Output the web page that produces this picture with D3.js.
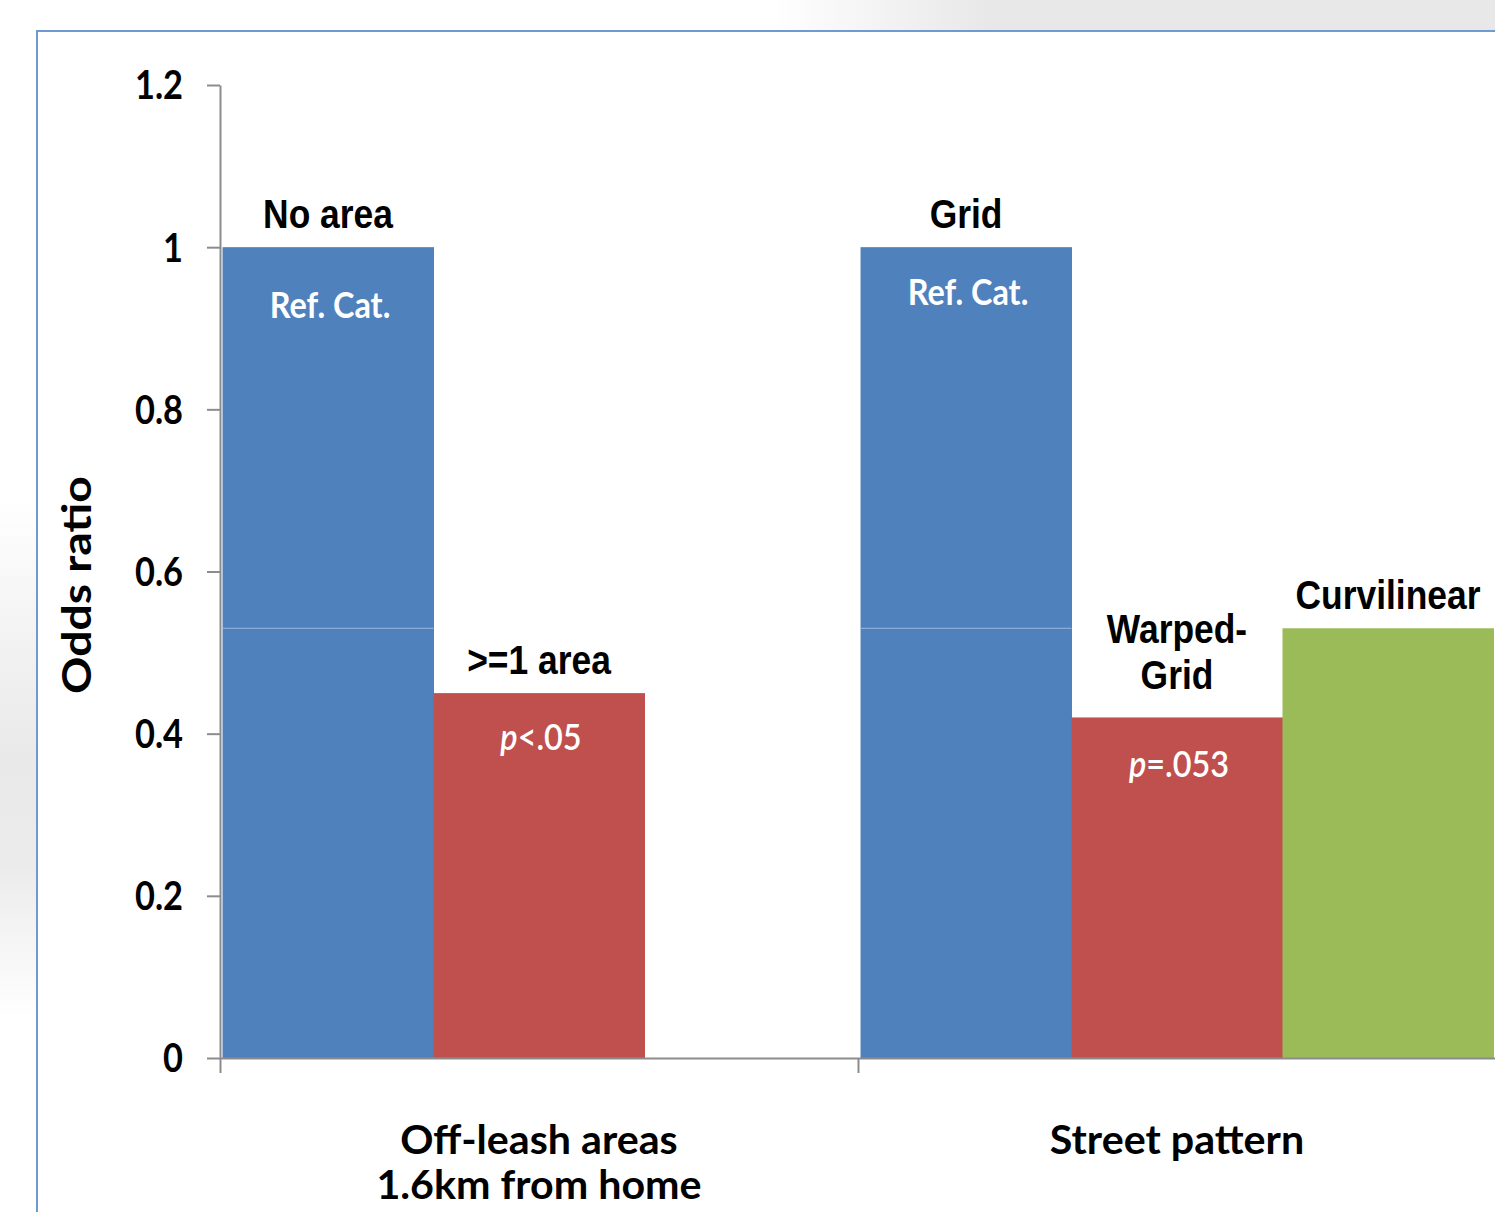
<!DOCTYPE html>
<html><head><meta charset="utf-8">
<script src="https://cdn.jsdelivr.net/npm/d3@7"></script>
<style>body{margin:0;background:#fff;overflow:hidden}</style>
</head><body><svg id="c" width="1495" height="1212"></svg>
<script>
const groups = ["Off-leash areas\n1.6km from home", "Street pattern"];
const blueValues = [1, 1];
const redValues = [0.45, 0.42];
const greenValues = [null, 0.53];
const labelsAbove = [["No area", ">=1 area", null], ["Grid", "Warped-\nGrid", "Curvilinear"]];
const labelsInside = [["Ref. Cat.", "p<.05", null], ["Ref. Cat.", "p=.053", null]];
const yTicks = [0, 0.2, 0.4, 0.6, 0.8, 1, 1.2];
const yTickLabels = ["0", "0.2", "0.4", "0.6", "0.8", "1", "1.2"];
const yTitle = "Odds ratio";
const colors = ["#4F81BD", "#C0504D", "#9BBB59"];

const svg = d3.select("#c");
const defs = svg.append("defs");
const gTop = defs.append("linearGradient").attr("id","gTop").attr("x1",0).attr("x2",1).attr("y1",0).attr("y2",0);
gTop.append("stop").attr("offset",0).attr("stop-color","#ffffff");
gTop.append("stop").attr("offset",0.3).attr("stop-color","#e8e8e8");
gTop.append("stop").attr("offset",1).attr("stop-color","#e8e8e8");
const gLeft = defs.append("linearGradient").attr("id","gLeft").attr("x1",0).attr("x2",0).attr("y1",0).attr("y2",1);
gLeft.append("stop").attr("offset",0).attr("stop-color","#ffffff");
gLeft.append("stop").attr("offset",0.25).attr("stop-color","#f3f3f3");
gLeft.append("stop").attr("offset",0.5).attr("stop-color","#e9e9e9");
gLeft.append("stop").attr("offset",0.7).attr("stop-color","#ebebeb");
gLeft.append("stop").attr("offset",1).attr("stop-color","#ffffff");

// background shading outside the frame
svg.append("rect").attr("x",770).attr("y",0).attr("width",725).attr("height",31).attr("fill","url(#gTop)");
svg.append("rect").attr("x",0).attr("y",500).attr("width",36).attr("height",520).attr("fill","url(#gLeft)");
// frame
svg.append("rect").attr("x",37).attr("y",31).attr("width",1600).attr("height",1400)
  .attr("fill","#fff").attr("stroke","#6E9AD0").attr("stroke-width",2);

const y = d3.scaleLinear().domain([0, 1.2]).range([1058, 85]);
const x0 = d3.scaleBand().domain(d3.range(groups.length)).range([220, 1496]).padding(0);
const x1 = d3.scaleBand().domain([0, 1, 2]).range([0, x0.bandwidth()]).paddingInner(0).paddingOuter(0.012);

const series = [blueValues, redValues, greenValues];
const bars = [];
groups.forEach((g, gi) => series.forEach((s, si) => {
  if (s[gi] != null) bars.push({gi, si, v: s[gi]});
}));

svg.append("g").selectAll("rect").data(bars).join("rect")
  .attr("x", d => x0(d.gi) + x1(d.si))
  .attr("width", x1.bandwidth() + 0.5)
  .attr("y", d => y(d.v))
  .attr("height", d => y(0) - y(d.v))
  .attr("fill", d => colors[d.si]);

// faint line across the blue bars at the curvilinear level
groups.forEach((g, gi) => {
  const lv = greenValues[1];
  svg.append("line")
    .attr("x1", x0(gi) + x1(0)).attr("x2", x0(gi) + x1(0) + x1.bandwidth())
    .attr("y1", y(lv)).attr("y2", y(lv))
    .attr("stroke", "#9DB8DC").attr("stroke-width", 1.2);
});

// Axes
const yAxis = d3.axisLeft(y).tickValues(yTicks).tickSize(13).tickSizeOuter(0).tickFormat("");
const ya = svg.append("g").attr("transform", "translate(220,0)").call(yAxis);
ya.selectAll("path,line").attr("stroke", "#8C8C8C").attr("stroke-width", 2);

const xEdge = d3.scaleLinear().domain([0, groups.length]).range([220, 1496]);
const xAxis = d3.axisBottom(xEdge).tickValues(d3.range(groups.length + 1)).tickSize(15).tickSizeOuter(0).tickFormat("");
const xa = svg.append("g").attr("transform", "translate(0,1058)").call(xAxis);
xa.selectAll("path,line").attr("stroke", "#8C8C8C").attr("stroke-width", 2);

const CAL = "Lato, 'Open Sans', sans-serif";
const ARI = "'Liberation Sans', Arial, sans-serif";

// tick labels
svg.append("g").selectAll("text").data(yTicks).join("text")
  .attr("transform", d => `translate(183,${y(d)}) scale(0.86,1)`)
  .attr("dy", "0.36em").attr("text-anchor", "end")
  .attr("font-family", CAL).attr("font-weight", 700).attr("font-size", 40).attr("fill", "#000")
  .text((d, i) => yTickLabels[i]);

// y title
svg.append("text")
  .attr("transform", "translate(91,585) rotate(-90) scale(1.13,1)")
  .attr("text-anchor", "middle")
  .attr("font-family", CAL).attr("font-weight", 700).attr("font-size", 41).attr("fill", "#000")
  .text(yTitle);

// category labels
groups.forEach((g, gi) => {
  const cx = x0(gi) + x0.bandwidth() / 2;
  g.split("\n").forEach((line, li) => {
    svg.append("text")
      .attr("transform", `translate(${cx},${1154 + li * 45}) scale(1.03,1)`)
      .attr("text-anchor", "middle")
      .attr("font-family", CAL).attr("font-weight", 700).attr("font-size", 40).attr("fill", "#000")
      .text(line);
  });
});

// labels above bars
labelsAbove.forEach((row, gi) => row.forEach((lab, si) => {
  if (!lab) return;
  const v = series[si][gi];
  const cx = x0(gi) + x1(si) + x1.bandwidth() / 2;
  const lines = lab.split("\n");
  lines.forEach((line, li) => {
    const baseY = y(v) - 19 - (lines.length - 1 - li) * 46 - (lines.length > 1 ? 9 : 0);
    svg.append("text")
      .attr("transform", `translate(${cx},${baseY}) scale(0.885,1)`)
      .attr("text-anchor", "middle")
      .attr("font-family", ARI).attr("font-weight", 700).attr("font-size", 40).attr("fill", "#000")
      .text(line);
  });
}));

// labels inside bars
const insideDy = [[71, 57], [58, 60]];
labelsInside.forEach((row, gi) => row.forEach((lab, si) => {
  if (!lab) return;
  const v = series[si][gi];
  const cx = x0(gi) + x1(si) + x1.bandwidth() / 2 + 2;
  const t = svg.append("text")
    .attr("transform", `translate(${cx},${y(v) + insideDy[gi][si]}) scale(0.9,1)`)
    .attr("text-anchor", "middle")
    .attr("font-family", CAL).attr("font-size", 36).attr("fill", "#fff");
  if (lab.startsWith("p")) {
    t.attr("font-weight", 600);
    t.append("tspan").attr("font-style", "italic").text("p");
    t.append("tspan").text(lab.slice(1));
  } else {
    t.attr("font-weight", 700).text(lab);
  }
}));
</script></body></html>
